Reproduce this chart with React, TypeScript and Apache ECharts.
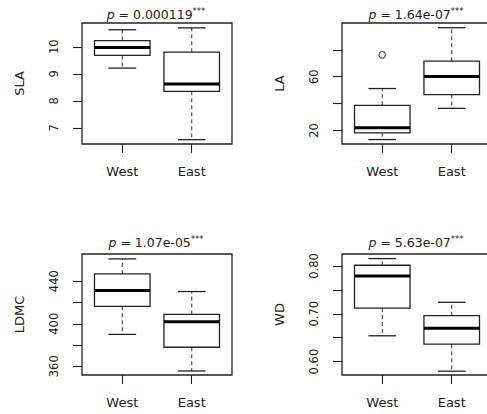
import React, { useEffect, useRef } from "react";
import * as echarts from "echarts";

// ---- data : [lower whisker, Q1, median, Q3, upper whisker]
const categories = ["West", "East"];
const slaWest = [9.21, 9.68, 9.97, 10.23, 10.63];
const slaEast = [6.56, 8.35, 8.62, 9.8, 10.7];
const laWest = [13.3, 18.3, 22.0, 38.7, 51.2];
const laEast = [36.5, 46.7, 60.2, 71.5, 96.4];
const laWestOutliers = [76.2];
const ldmcWest = [390, 416.4, 431.2, 446.9, 461];
const ldmcEast = [355.6, 377.9, 401.9, 408.8, 430.3];
const wdWest = [0.654, 0.712, 0.779, 0.8015, 0.8154];
const wdEast = [0.58, 0.6365, 0.67, 0.696, 0.724];

const slaTicks = [7, 8, 9, 10];
const slaLabels = [7, 8, 9, 10];
const laTicks = [20, 40, 60, 80];
const laLabels = [20, 60];
const ldmcTicks = [360, 380, 400, 420, 440];
const ldmcLabels = [360, 400, 440];
const wdTicks = [0.6, 0.65, 0.7, 0.75, 0.8];
const wdLabels = [0.6, 0.7, 0.8];

const titles = ["0.000119", "1.64e-07", "1.07e-05", "5.63e-07"];
const names = ["SLA", "LA", "LDMC", "WD"];

const FONT = "DejaVu Sans";
const INK = "#222";

type Panel = {
  name: string;
  west: number[];
  east: number[];
  outWest: number[];
  ticks: number[];
  labels: number[];
  min: number;
  max: number;
  fmt: (v: number) => string;
  left: number;
  top: number;
  p: string;
};

const panels: Panel[] = [
  { name: names[0], west: slaWest, east: slaEast, outWest: [], ticks: slaTicks, labels: slaLabels, min: 6.4, max: 10.88, fmt: (v) => String(v), left: 82, top: 23, p: titles[0] },
  { name: names[1], west: laWest, east: laEast, outWest: laWestOutliers, ticks: laTicks, labels: laLabels, min: 10.0, max: 99.9, fmt: (v) => String(v), left: 342, top: 23, p: titles[1] },
  { name: names[2], west: ldmcWest, east: ldmcEast, outWest: [], ticks: ldmcTicks, labels: ldmcLabels, min: 351.8, max: 465.6, fmt: (v) => String(v), left: 82, top: 254, p: titles[2] },
  { name: names[3], west: wdWest, east: wdEast, outWest: [], ticks: wdTicks, labels: wdLabels, min: 0.572, max: 0.825, fmt: (v) => v.toFixed(2), left: 342, top: 254, p: titles[3] },
];

const GW = 150;
const GH = 121;

function renderBox(params: any, api: any) {
  const x = api.value(0);
  const lo = api.value(1);
  const q1 = api.value(2);
  const med = api.value(3);
  const q3 = api.value(4);
  const hi = api.value(5);
  const c = (v: number) => api.coord([x, v]);
  const half = api.size([0.4, 0])[0];
  const capHalf = half / 2;
  const [cx, yLo] = c(lo);
  const yQ1 = c(q1)[1];
  const yMed = c(med)[1];
  const yQ3 = c(q3)[1];
  const yHi = c(hi)[1];
  const solid = { stroke: INK, lineWidth: 1.3, fill: null };
  const dashed = { stroke: "#444", lineWidth: 1.1, lineDash: [4, 3], fill: null };
  return {
    type: "group",
    children: [
      { type: "line", shape: { x1: cx, y1: yQ3, x2: cx, y2: yHi }, style: dashed },
      { type: "line", shape: { x1: cx, y1: yQ1, x2: cx, y2: yLo }, style: dashed },
      { type: "line", shape: { x1: cx - capHalf, y1: yHi, x2: cx + capHalf, y2: yHi }, style: solid },
      { type: "line", shape: { x1: cx - capHalf, y1: yLo, x2: cx + capHalf, y2: yLo }, style: solid },
      { type: "rect", shape: { x: cx - half, y: yQ3, width: half * 2, height: yQ1 - yQ3 }, style: { stroke: INK, lineWidth: 1.3, fill: "#fff" } },
      { type: "line", shape: { x1: cx - half, y1: yMed, x2: cx + half, y2: yMed }, style: { stroke: "#000", lineWidth: 3 } },
    ],
  };
}

export default function App() {
  const ref = useRef<HTMLDivElement>(null);
  useEffect(() => {
    if (!ref.current) return;
    const chart = echarts.init(ref.current, null, { renderer: "svg" });
    const grid: any[] = [];
    const xAxis: any[] = [];
    const yAxis: any[] = [];
    const series: any[] = [];
    const graphic: any[] = [];
    panels.forEach((p, i) => {
      grid.push({
        left: p.left,
        top: p.top,
        width: GW,
        height: GH,
        show: true,
        borderColor: INK,
        borderWidth: 1.3,
        backgroundColor: "transparent",
        containLabel: false,
        outerBoundsMode: "none",
      });
      xAxis.push({
        type: "value",
        gridIndex: i,
        min: 0.42,
        max: 2.58,
        axisLine: { show: false },
        splitLine: { show: false },
        axisTick: { show: true, inside: false, length: 9, customValues: [1, 2], lineStyle: { color: INK, width: 1.1 } },
        axisLabel: {
          customValues: [1, 2],
          formatter: (v: number) => categories[Math.round(v) - 1],
          fontFamily: FONT,
          fontSize: 13,
          color: INK,
          margin: 21,
        },
      });
      yAxis.push({
        type: "value",
        gridIndex: i,
        min: p.min,
        max: p.max,
        name: p.name,
        nameLocation: "middle",
        nameRotate: 90,
        nameGap: 56,
        nameTextStyle: { fontFamily: FONT, fontSize: 13, color: INK },
        axisLine: { show: false },
        splitLine: { show: false },
        axisTick: { show: true, inside: false, length: 9, customValues: p.ticks, lineStyle: { color: INK, width: 1.1 } },
        axisLabel: {
          customValues: p.labels,
          formatter: (v: number) => p.fmt(v),
          rotate: 90,
          fontFamily: FONT,
          fontSize: 11.5,
          color: INK,
          margin: 22,
        },
      });
      series.push({
        type: "custom",
        xAxisIndex: i,
        yAxisIndex: i,
        clip: false,
        renderItem: renderBox,
        encode: { x: 0, y: [1, 2, 3, 4, 5] },
        data: [
          [1, ...p.west],
          [2, ...p.east],
        ],
      });
      if (p.outWest.length) {
        series.push({
          type: "scatter",
          xAxisIndex: i,
          yAxisIndex: i,
          symbol: "circle",
          symbolSize: 6.5,
          itemStyle: { color: "#fff", borderColor: INK, borderWidth: 1.2 },
          data: p.outWest.map((v) => [1, v]),
        });
      }
      graphic.push({
        type: "text",
        x: p.left + GW / 2 - 1,
        y: p.top === 23 ? 14 : 242,
        style: {
          text: "{i|p} = " + p.p + "{s|***}",
          fontFamily: FONT,
          fontSize: 12.5,
          fill: INK,
          align: "center",
          verticalAlign: "middle",
          rich: {
            i: { fontStyle: "italic", fontFamily: FONT, fontSize: 12.5, fill: INK },
            s: { fontFamily: FONT, fontSize: 8.5, fill: INK, padding: [0, 0, 6, 0] },
          },
        },
      });
    });
    chart.setOption({
      animation: false,
      backgroundColor: "#fff",
      grid,
      xAxis,
      yAxis,
      series,
      graphic,
    });
    return () => chart.dispose();
  }, []);
  return (
    <div
      ref={ref}
      style={{ position: "fixed", left: 0, top: 0, width: 487, height: 414, background: "#fff" }}
    />
  );
}
